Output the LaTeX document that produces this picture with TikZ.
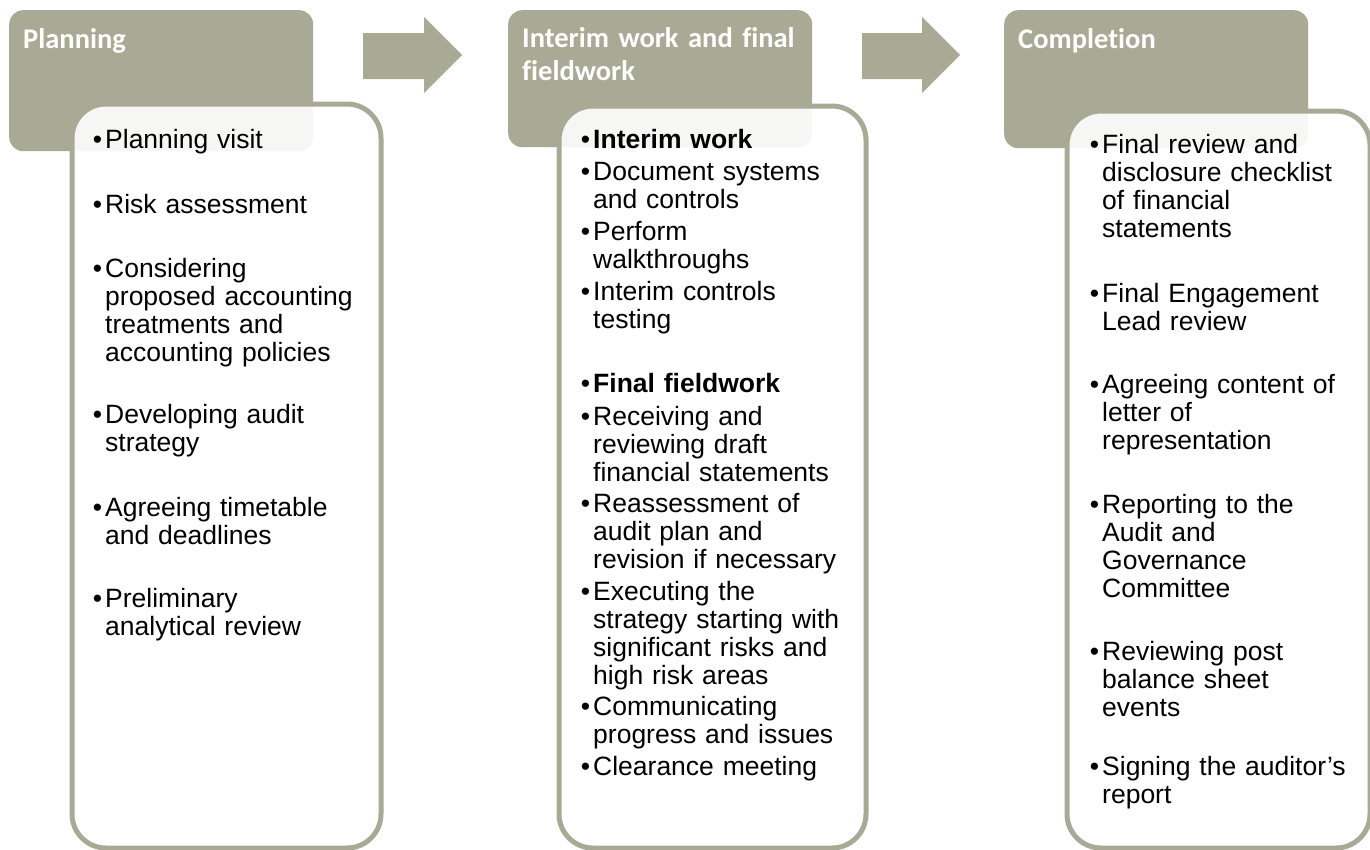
\documentclass[tikz,border=0pt]{standalone}
\usepackage{fontspec}
\setmainfont{Liberation Sans}
\newfontfamily\headfont[Ligatures=CommonOff]{Carlito}
\definecolor{sage}{RGB}{168,170,150}
\newcommand\bul{\leavevmode\llap{•\hspace{3pt}}}
\begin{document}
\begin{tikzpicture}[x=1pt,y=-1pt,
  headbox/.style={fill=sage, rounded corners=14pt, anchor=north west, inner sep=0pt},
  bodybox/.style={draw=sage, line width=5pt, fill=white, fill opacity=0.9, rounded corners=34pt, anchor=north west, inner sep=0pt},
  headtxt/.style={font=\headfont\bfseries\fontsize{28.5}{33}\selectfont, text=white, anchor=base west, inner sep=0pt, align=left, text width=290pt},
  item/.style={font=\fontsize{26.5}{28}\selectfont, anchor=base west, inner sep=0pt, align=left, text width=275pt},
  flowarrow/.style={fill=sage}]
\useasboundingbox (0,0) rectangle (1370,849);

% header boxes
\node[headbox, minimum width=304pt, minimum height=141pt] (h1) at (9,10) {};
\node[headbox, minimum width=304pt, minimum height=137pt] (h2) at (508,10) {};
\node[headbox, minimum width=304pt, minimum height=138pt] (h3) at (1004,10) {};

% block arrows
\fill[flowarrow] (363,33) -- (424,33) -- (424,17) -- (462,55) -- (424,93) -- (424,79) -- (363,79) -- cycle;
\fill[flowarrow] (862,33) -- (922,33) -- (922,17) -- (960,55) -- (922,93) -- (922,79) -- (862,79) -- cycle;

% body boxes
\node[bodybox, minimum width=309pt, minimum height=744pt] (b1) at (69.5,101.5) {};
\node[bodybox, minimum width=307pt, minimum height=742pt] (b2) at (556.5,103.5) {};
\node[bodybox, minimum width=303pt, minimum height=737pt] (b3) at (1064.5,108.5) {};

% header texts
\node[headtxt] (t1) at (23,48) {Planning};
\node[headtxt] (t2) at (522,47) {Interim work and final\\fieldwork};
\node[headtxt] (t3) at (1018,48) {Completion};

% column 1
\node[item] (p1) at (105,148) {\bul Planning visit};
\node[item] (p2) at (105,213) {\bul Risk assessment};
\node[item] (p3) at (105,277) {\bul Considering\\proposed accounting\\treatments and\\accounting policies};
\node[item] (p4) at (105,423) {\bul Developing audit\\strategy};
\node[item] (p5) at (105,516) {\bul Agreeing timetable\\and deadlines};
\node[item] (p6) at (105,607) {\bul Preliminary\\analytical review};

% column 2
\node[item] (f1) at (593,148) {\bul\textbf{Interim work}};
\node[item] (f2) at (593,180) {\bul Document systems\\and controls};
\node[item] (f3) at (593,240) {\bul Perform\\walkthroughs};
\node[item] (f4) at (593,300) {\bul Interim controls\\testing};
\node[item] (f5) at (593,392) {\bul\textbf{Final fieldwork}};
\node[item] (f6) at (593,425) {\bul Receiving and\\reviewing draft\\financial statements};
\node[item] (f7) at (593,512) {\bul Reassessment of\\audit plan and\\revision if necessary};
\node[item] (f8) at (593,600) {\bul Executing the\\strategy starting with\\significant risks and\\high risk areas};
\node[item] (f9) at (593,715) {\bul Communicating\\progress and issues};
\node[item] (f10) at (593,775) {\bul Clearance meeting};

% column 3
\node[item] (c1) at (1102,153) {\bul Final review and\\disclosure checklist\\of financial\\statements};
\node[item] (c2) at (1102,302) {\bul Final Engagement\\Lead review};
\node[item] (c3) at (1102,393) {\bul Agreeing content of\\letter of\\representation};
\node[item] (c4) at (1102,513) {\bul Reporting to the\\Audit and\\Governance\\Committee};
\node[item] (c5) at (1102,660) {\bul Reviewing post\\balance sheet\\events};
\node[item] (c6) at (1102,775) {\bul Signing the auditor’s\\report};
\end{tikzpicture}
\end{document}
